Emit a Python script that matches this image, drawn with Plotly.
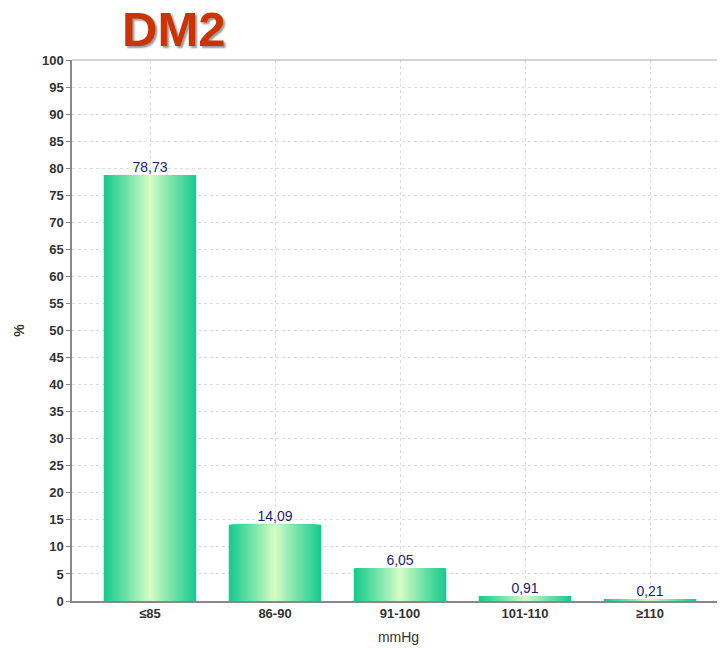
import plotly.graph_objects as go

categories = ["≤85", "86-90", "91-100", "101-110", "≥110"]
values = [78.73, 14.09, 6.05, 0.91, 0.21]
value_labels = ["78,73", "14,09", "6,05", "0,91", "0,21"]
y_ticks = list(range(0, 101, 5))

x_pos = list(range(len(categories)))
bw = 0.74
N = 40
edge = (24, 202, 142)
mid = (222, 255, 200)

fig = go.Figure()
# nested centred bars: widest (edge colour) first, narrowest (centre colour) last
for k in range(N):
    d = 1 - k / N
    f = d ** 0.9
    c = tuple(int(round(mid[j] + (edge[j] - mid[j]) * f)) for j in range(3))
    fig.add_trace(go.Bar(
        x=x_pos, y=values,
        width=bw * d,
        marker=dict(color="rgb(%d,%d,%d)" % c, line=dict(width=0)),
        hoverinfo="skip", showlegend=False,
    ))

fig.add_trace(go.Scatter(
    x=x_pos, y=values, mode="text", text=value_labels,
    textposition="top center",
    textfont=dict(family="Arial, Liberation Sans", size=14, color="#1c1c7a"),
    showlegend=False, cliponaxis=False,
))

# page body has an 8px margin, so the figure is sized/positioned to compensate
W, H = 717, 640
L, T, B = 64, 52, 47
plot_w, plot_h = W - L, H - T - B

fig.update_layout(
    width=W, height=H,
    margin=dict(l=L, r=0, t=T, b=B, autoexpand=False),
    barmode="overlay",
    plot_bgcolor="white", paper_bgcolor="white",
    font=dict(family="Arial, Liberation Sans", color="#333333"),
)
fig.add_annotation(
    text="<b>DM2</b>", xref="paper", yref="paper",
    x=(165 - L) / plot_w, y=1 + (T - 21) / plot_h, xanchor="center", yanchor="middle",
    showarrow=False,
    font=dict(family="Arial, Liberation Sans", size=49, color="#cc3300",
              shadow="2px 2px 2px #999999"),
)

fig.update_xaxes(
    range=[-0.624, 4.6], automargin=False,
    tickvals=x_pos, ticktext=["<b>%s</b>" % c for c in categories],
    tickfont=dict(size=13, color="#333333"),
    showgrid=True, gridcolor="#dddddd", griddash="dot", gridwidth=1,
    showline=True, linecolor="#888888", linewidth=1.5,
    ticks="", zeroline=False,
    title=dict(text="mmHg", font=dict(size=14, color="#333333"), standoff=12),
)
fig.update_yaxes(
    range=[0, 100], automargin=False,
    tickvals=y_ticks, ticktext=["<b>%d</b>" % v for v in y_ticks],
    tickfont=dict(size=13, color="#333333"),
    showgrid=True, gridcolor="#dddddd", griddash="dot", gridwidth=1,
    showline=True, linecolor="#888888", linewidth=1.5,
    ticks="outside", ticklen=4, tickcolor="#888888",
    zeroline=False,
    title=dict(text="<b>%</b>", font=dict(size=14, color="#333333"), standoff=14),
)
fig.add_shape(type="line", xref="paper", yref="paper", x0=0, x1=1, y0=1, y1=1,
              line=dict(color="#aaaaaa", width=1))

fig.write_html("out.html")
